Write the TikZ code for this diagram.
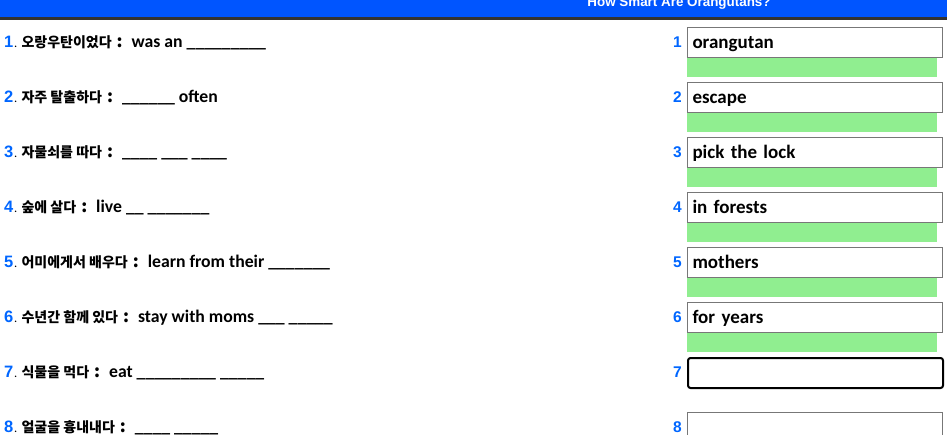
\documentclass[tikz,border=0pt]{standalone}
\usepackage{fontspec}
\setmainfont{Carlito}
\newfontfamily\krfont{Noto Sans CJK KR}
\newfontfamily\arialfont{Liberation Sans}
\usetikzlibrary{positioning}

\definecolor{titelblau}{HTML}{0055FF}
\definecolor{nummerblau}{HTML}{0066FF}
\definecolor{balken}{HTML}{333333}
\definecolor{hellgruen}{HTML}{90EE90}
\definecolor{rahmen}{HTML}{777777}

% Nummer vor der Frage und koreanischer Text
\newcommand{\nr}[1]{{\arialfont\bfseries\fontsize{16.5}{16.5}\selectfont\color{nummerblau}#1}\hspace{1pt}{\fontsize{10}{10}\selectfont.}\hspace{4.5pt}}
\newcommand{\kor}[1]{{\krfont\bfseries\fontsize{14}{14}\selectfont #1\hspace{5pt}{\fontsize{17}{17}\selectfont:}}\hspace{9pt}}

\begin{document}
\begin{tikzpicture}[x=1pt,y=-1pt,
		frage/.style={anchor=base west,inner sep=0pt,font=\bfseries\fontsize{17.7}{18}\selectfont},
		nummer/.style={anchor=east,inner sep=0pt,text=nummerblau,font=\arialfont\bfseries\fontsize{15.5}{15.5}\selectfont},
		antwort/.style={draw=rahmen,line width=1pt,anchor=north west,minimum height=30pt,
			text width=245pt,inner xsep=5pt,inner ysep=0pt,align=left,
			text height=14pt,text depth=3pt,font=\bfseries\fontsize{19}{19}\selectfont},
		aktiv/.style={antwort,draw=black,line width=2pt,rounded corners=2.5pt},
		gruen/.style={fill=hellgruen,anchor=north west,minimum width=250pt,minimum height=19pt,inner sep=0pt}]
			\useasboundingbox (0,0) rectangle (947,434);
			\clip (0,0) rectangle (947,434);

			% Titelleiste
			\fill[titelblau] (0,0) rectangle (947,17);
			\fill[balken] (0,17) rectangle (947,20);
			\node[anchor=base,inner sep=0pt,text=white,font=\arialfont\bfseries\fontsize{13.4}{14}\selectfont] (titel) at (679,6.5) {How Smart Are Orangutans?};

			% Fragen links
			\node[frage] (f1) at (4,47) {\nr{1}\kor{오랑우탄이었다}was an \_\_\_\_\_\_\_\_\_};
			\node[frage] (f2) at (4,102) {\nr{2}\kor{자주 탈출하다}\_\_\_\_\_\_ often};
			\node[frage] (f3) at (4,157) {\nr{3}\kor{자물쇠를 따다}\_\_\_\_ \_\_\_ \_\_\_\_};
			\node[frage] (f4) at (4,212) {\nr{4}\kor{숲에 살다}live \_\_ \_\_\_\_\_\_\_};
			\node[frage] (f5) at (4,267) {\nr{5}\kor{어미에게서 배우다}learn from their \_\_\_\_\_\_\_};
			\node[frage] (f6) at (4,322) {\nr{6}\kor{수년간 함께 있다}stay with moms \_\_\_ \_\_\_\_\_};
			\node[frage] (f7) at (4,377) {\nr{7}\kor{식물을 먹다}eat \_\_\_\_\_\_\_\_\_ \_\_\_\_\_};
			\node[frage] (f8) at (4,432) {\nr{8}\kor{얼굴을 흉내내다}\_\_\_\_ \_\_\_\_\_};

			% Antwortfelder rechts
			\node[nummer] (n1) at (682,42) {1};
			\node[antwort] (a1) at (687,27) {orangutan};
			\node[gruen] (g1) at (a1.south west) {};

			\node[nummer] (n2) at (682,97) {2};
			\node[antwort] (a2) at (687,82) {escape};
			\node[gruen] (g2) at (a2.south west) {};

			\node[nummer] (n3) at (682,152) {3};
			\node[antwort] (a3) at (687,137) {pick the lock};
			\node[gruen] (g3) at (a3.south west) {};

			\node[nummer] (n4) at (682,207) {4};
			\node[antwort] (a4) at (687,192) {in forests};
			\node[gruen] (g4) at (a4.south west) {};

			\node[nummer] (n5) at (682,262) {5};
			\node[antwort] (a5) at (687,247) {mothers};
			\node[gruen] (g5) at (a5.south west) {};

			\node[nummer] (n6) at (682,317) {6};
			\node[antwort] (a6) at (687,302) {for years};
			\node[gruen] (g6) at (a6.south west) {};

			\node[nummer] (n7) at (682,372) {7};
			\node[aktiv] (a7) at (687,357) {};

			\node[nummer] (n8) at (682,427) {8};
			\node[antwort] (a8) at (687,412) {};

		\end{tikzpicture}
\end{document}
